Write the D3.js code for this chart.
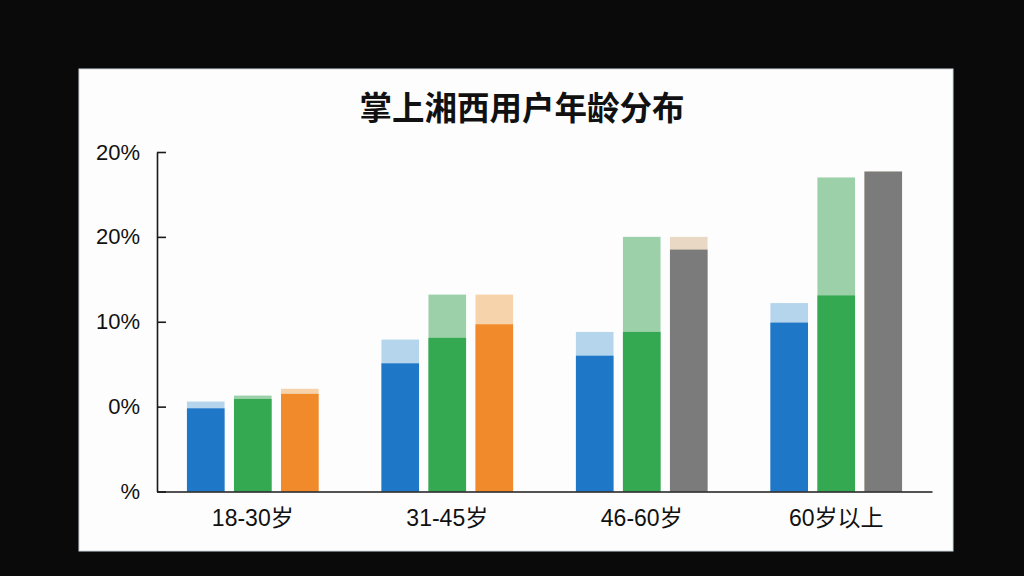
<!DOCTYPE html>
<html>
<head>
<meta charset="utf-8">
<script src="https://cdn.jsdelivr.net/npm/d3@7"></script>
<style>
  html, body { margin: 0; padding: 0; background: #0a0a0a; }
  svg { display: block; }
  .axis text { font-family: "Liberation Sans", "Noto Sans CJK SC", sans-serif; fill: #111; }
  .axis path, .axis line { stroke: #1a1a1a; stroke-width: 1.6; }
</style>
</head>
<body>
<div id="chart"></div>
<script>
// age groups
const categories = ["18-30岁", "31-45岁", "46-60岁", "60岁以上"];

// y axis ticks as printed on the picture
const yTickValues = [-10, 0, 10, 20, 30];
const yTickLabels = ["%", "0%", "10%", "20%", "20%"];

// each bar = solid part (base) + pale cap up to top
const blueBase  = [-0.2, 5.1, 6.0, 9.9];
const blueTop   = [0.6, 7.9, 8.8, 12.2];
const greenBase = [0.9, 8.1, 8.8, 13.1];
const greenTop  = [1.3, 13.2, 20.0, 27.0];
const thirdBase = [1.5, 9.7, 18.5, 27.7];
const thirdTop  = [2.1, 13.2, 20.0, 27.7];

const seriesKeys = ["blue", "green", "third"];

// colours (third bar changes from orange to gray)
const colors = {
  blue:  { dark: ["#1f77c8", "#1f77c8", "#1f77c8", "#1f77c8"], light: ["#b5d5ed", "#b5d5ed", "#b5d5ed", "#b5d5ed"] },
  green: { dark: ["#35a952", "#35a952", "#35a952", "#35a952"], light: ["#9bd0a8", "#9bd0a8", "#9bd0a8", "#9bd0a8"] },
  third: { dark: ["#f08a2b", "#f08a2b", "#7b7b7b", "#7b7b7b"], light: ["#f7d3ab", "#f7d3ab", "#e9d8c3", "#e9d8c3"] }
};

const config = {
  width: 1024, height: 576,
  panel: {x: 79, y: 69, w: 874, h: 482},
  plot: {left: 157, right: 932, top: 152, bottom: 491.5}
};

const rows = categories.map((c, i) => ({
  category: c,
  blue:  {base: blueBase[i],  top: blueTop[i]},
  green: {base: greenBase[i], top: greenTop[i]},
  third: {base: thirdBase[i], top: thirdTop[i]},
  idx: i
}));

const svg = d3.select("#chart").append("svg")
    .attr("width", config.width)
    .attr("height", config.height);

svg.append("rect")
    .attr("width", config.width)
    .attr("height", config.height)
    .attr("fill", "#0a0a0a");

// white card
svg.append("rect")
    .attr("x", config.panel.x)
    .attr("y", config.panel.y)
    .attr("width", config.panel.w)
    .attr("height", config.panel.h)
    .attr("fill", "#fdfdfd")
    .attr("stroke", "#cfd8dc")
    .attr("stroke-width", 1);

svg.append("text")
    .attr("x", 522)
    .attr("y", 120)
    .attr("text-anchor", "middle")
    .style("font-family", "'Noto Sans CJK SC', sans-serif")
    .style("font-size", "32.5px")
    .style("font-weight", "bold")
    .style("fill", "#111")
    .text("掌上湘西用户年龄分布");

const p = config.plot;

const xScale = d3.scaleBand()
    .domain(categories)
    .range([p.left, p.right])
    .paddingInner(0.323)
    .paddingOuter(0.154);

const xSub = d3.scaleBand()
    .domain(seriesKeys)
    .range([0, xScale.bandwidth()])
    .paddingInner(0.2)
    .paddingOuter(0);

const yScale = d3.scaleLinear()
    .domain([yTickValues[0], yTickValues[yTickValues.length - 1]])
    .range([p.bottom, p.top]);

const groups = svg.append("g").attr("class", "bars")
  .selectAll("g")
  .data(rows)
  .join("g")
    .attr("transform", d => `translate(${xScale(d.category)},0)`);

seriesKeys.forEach(key => {
  // pale cap (drawn full height, solid part goes over it)
  groups.append("rect")
      .attr("x", xSub(key))
      .attr("width", xSub.bandwidth())
      .attr("y", d => yScale(d[key].top))
      .attr("height", d => yScale.range()[0] - yScale(d[key].top))
      .attr("fill", d => colors[key].light[d.idx]);

  groups.append("rect")
      .attr("x", xSub(key))
      .attr("width", xSub.bandwidth())
      .attr("y", d => yScale(d[key].base))
      .attr("height", d => yScale.range()[0] - yScale(d[key].base))
      .attr("fill", d => colors[key].dark[d.idx]);
});

// y axis with inward ticks
const yAxis = d3.axisLeft(yScale)
    .tickValues(yTickValues)
    .tickFormat((d, i) => yTickLabels[i])
    .tickSizeInner(-9)
    .tickSizeOuter(0)
    .tickPadding(17);

svg.append("g")
    .attr("class", "axis y-axis")
    .attr("transform", `translate(${p.left},0)`)
    .call(yAxis)
    .call(g => g.selectAll("text").style("font-size", "22px"));

const xAxis = d3.axisBottom(xScale)
    .tickSize(0)
    .tickPadding(18);

svg.append("g")
    .attr("class", "axis x-axis")
    .attr("transform", `translate(0,${p.bottom})`)
    .call(xAxis)
    .call(g => g.selectAll("text").style("font-size", "23px"));
</script>
</body>
</html>
